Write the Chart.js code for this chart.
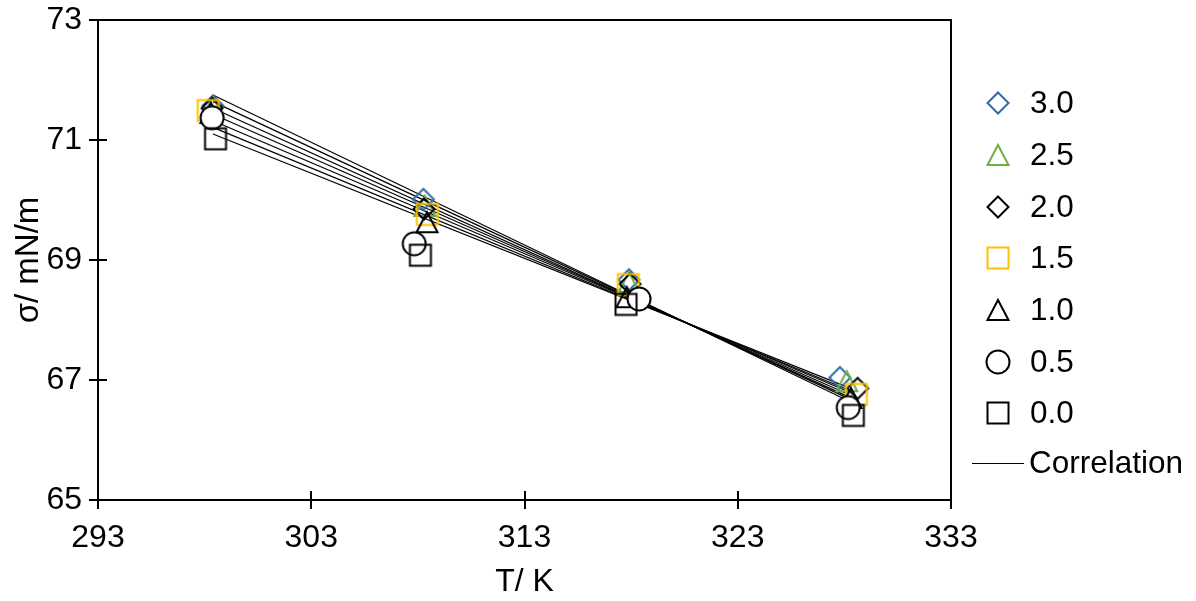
<!DOCTYPE html>
<html>
<head>
<meta charset="utf-8">
<script src="https://cdn.jsdelivr.net/npm/chart.js@4.4.1/dist/chart.umd.min.js"></script>
<style>
  html, body { margin: 0; padding: 0; background: #ffffff; }
  #wrap { width: 1196px; height: 601px; position: relative; }
</style>
</head>
<body>
<div id="wrap"><canvas id="c" width="1196" height="601"></canvas></div>
<script>
// Surface tension vs temperature, one series per concentration
const seriesLabels = ['3.0', '2.5', '2.0', '1.5', '1.0', '0.5', '0.0'];

const temp30 = [298.39, 308.26, 317.90, 327.79];
const sigma30 = [71.57, 70.01, 68.67, 67.04];
const temp25 = [298.39, 308.33, 317.90, 328.11];
const sigma25 = [71.55, 69.90, 68.63, 66.98];
const temp20 = [298.35, 308.29, 317.95, 328.62];
const sigma20 = [71.53, 69.85, 68.60, 66.86];
const temp15 = [298.17, 308.44, 317.87, 328.56];
const sigma15 = [71.49, 69.76, 68.59, 66.76];
const temp10 = [298.30, 308.43, 317.80, 328.31];
const sigma10 = [71.45, 69.63, 68.38, 66.70];
const temp05 = [298.35, 307.83, 318.37, 328.18];
const sigma05 = [71.37, 69.27, 68.35, 66.54];
const temp00 = [298.51, 308.12, 317.76, 328.42];
const sigma00 = [71.02, 69.08, 68.26, 66.41];

// Correlation lines: end temperatures and the sigma at each end, per concentration
const corrTemp = [298.39, 328.08];
const corrStart = [71.75, 71.64, 71.53, 71.43, 71.32, 71.21, 71.10];
const corrEnd = [66.67, 66.71, 66.74, 66.78, 66.82, 66.85, 66.89];

const xTicks = [293, 303, 313, 323, 333];
const yTicks = [65, 67, 69, 71, 73];

const FONT = "'Liberation Sans', Arial, sans-serif";

// Marker sprites (outlined shapes)
function marker(shape, color, fill) {
  const c = document.createElement('canvas');
  c.width = 28; c.height = 28;
  const g = c.getContext('2d');
  const m = 14;
  g.strokeStyle = color;
  g.lineWidth = 2;
  g.lineJoin = 'miter';
  g.beginPath();
  if (shape === 'diamond') {
    g.moveTo(m, m - 10.5); g.lineTo(m + 10.5, m); g.lineTo(m, m + 10.5); g.lineTo(m - 10.5, m); g.closePath();
  } else if (shape === 'triangle') {
    g.moveTo(m, m - 10); g.lineTo(m + 10.5, m + 10); g.lineTo(m - 10.5, m + 10); g.closePath();
  } else if (shape === 'square') {
    g.rect(m - 10.5, m - 10.5, 21, 21);
  } else {
    g.arc(m, m, 11.5, 0, Math.PI * 2);
  }
  if (fill) { g.fillStyle = fill; g.fill(); }
  g.stroke();
  return c;
}

const markers = [
  marker('diamond', '#2e68a8'),
  marker('triangle', '#70ad47'),
  marker('diamond', '#000000'),
  marker('square', '#ffc000'),
  marker('triangle', '#000000'),
  marker('circle', '#000000', '#ffffff'),
  marker('square', '#000000')
];

const temps = [temp30, temp25, temp20, temp15, temp10, temp05, temp00];
const sigmas = [sigma30, sigma25, sigma20, sigma15, sigma10, sigma05, sigma00];

const datasets = [];
seriesLabels.forEach((lab, i) => {
  datasets.push({
    label: lab,
    data: temps[i].map((t, k) => ({ x: t, y: sigmas[i][k] })),
    showLine: false,
    pointStyle: markers[i],
    pointRadius: 10,
    pointHoverRadius: 10,
    order: seriesLabels.length - i
  });
});
seriesLabels.forEach((lab, i) => {
  datasets.push({
    label: 'Correlation ' + lab,
    data: corrTemp.map((t, k) => ({ x: t, y: k === 0 ? corrStart[i] : corrEnd[i] })),
    showLine: true,
    borderColor: '#000000',
    borderWidth: 1.2,
    pointRadius: 0,
    pointHoverRadius: 0,
    order: 100
  });
});

// Plot frame and inward tick marks
const framePlugin = {
  id: 'frame',
  beforeDatasetsDraw(chart) {
    const { ctx, chartArea: a, scales } = chart;
    ctx.save();
    ctx.strokeStyle = '#000';
    ctx.lineWidth = 2;
    ctx.beginPath();
    ctx.moveTo(a.left, a.top); ctx.lineTo(a.right, a.top); ctx.lineTo(a.right, a.bottom);
    xTicks.forEach(v => {
      const px = Math.round(scales.x.getPixelForValue(v));
      ctx.moveTo(px, a.bottom); ctx.lineTo(px, a.bottom - 9);
    });
    yTicks.forEach(v => {
      const py = Math.round(scales.y.getPixelForValue(v));
      ctx.moveTo(a.left, py); ctx.lineTo(a.left + 9, py);
    });
    ctx.stroke();
    ctx.restore();
  }
};

// Legend at the right
const legendPlugin = {
  id: 'sideLegend',
  afterDraw(chart) {
    const ctx = chart.ctx;
    const rows = [103, 155, 207, 258, 310, 362, 413];
    ctx.save();
    ctx.fillStyle = '#000';
    ctx.font = '31.5px ' + FONT;
    ctx.textBaseline = 'middle';
    ctx.textAlign = 'left';
    seriesLabels.forEach((lab, i) => {
      const m = markers[i];
      ctx.drawImage(m, 998 - m.width / 2, rows[i] - m.height / 2);
      ctx.fillText(lab, 1030, rows[i] + 1);
    });
    ctx.strokeStyle = '#000';
    ctx.lineWidth = 1.2;
    ctx.beginPath();
    ctx.moveTo(972, 463.5); ctx.lineTo(1024, 463.5);
    ctx.stroke();
    ctx.fillText('Correlation', 1029, 464);
    ctx.restore();
  }
};

new Chart(document.getElementById('c'), {
  type: 'scatter',
  data: { datasets },
  options: {
    responsive: false,
    devicePixelRatio: 1,
    animation: false,
    events: [],
    layout: { padding: { top: 20, right: 245, left: 0, bottom: 0 } },
    plugins: { legend: { display: false }, tooltip: { enabled: false } },
    scales: {
      x: {
        type: 'linear',
        min: 293, max: 333,
        afterBuildTicks: s => { s.ticks = xTicks.map(v => ({ value: v })); },
        afterFit: s => { s.height = 101; s.paddingLeft = 0; s.paddingRight = 0; },
        ticks: { font: { family: FONT, size: 32 }, color: '#000', padding: 10, maxRotation: 0 },
        grid: { drawOnChartArea: false, drawTicks: true, tickLength: 9, color: '#000', lineWidth: 2 },
        border: { display: true, color: '#000', width: 2 },
        title: { display: true, text: 'T/ K', font: { family: FONT, size: 32 }, color: '#000', padding: { top: 0, bottom: 0 } }
      },
      y: {
        type: 'linear',
        min: 65, max: 73,
        afterBuildTicks: s => { s.ticks = yTicks.map(v => ({ value: v })); },
        afterFit: s => { s.width = 98; s.paddingTop = 0; s.paddingBottom = 0; },
        ticks: { font: { family: FONT, size: 32 }, color: '#000', padding: 7 },
        grid: { drawOnChartArea: false, drawTicks: true, tickLength: 9, color: '#000', lineWidth: 2 },
        border: { display: true, color: '#000', width: 2 },
        title: { display: true, text: 'σ/ mN/m', font: { family: FONT, size: 33 }, color: '#000', padding: { top: 9, bottom: 0 } }
      }
    }
  },
  plugins: [framePlugin, legendPlugin]
});
</script>
</body>
</html>
